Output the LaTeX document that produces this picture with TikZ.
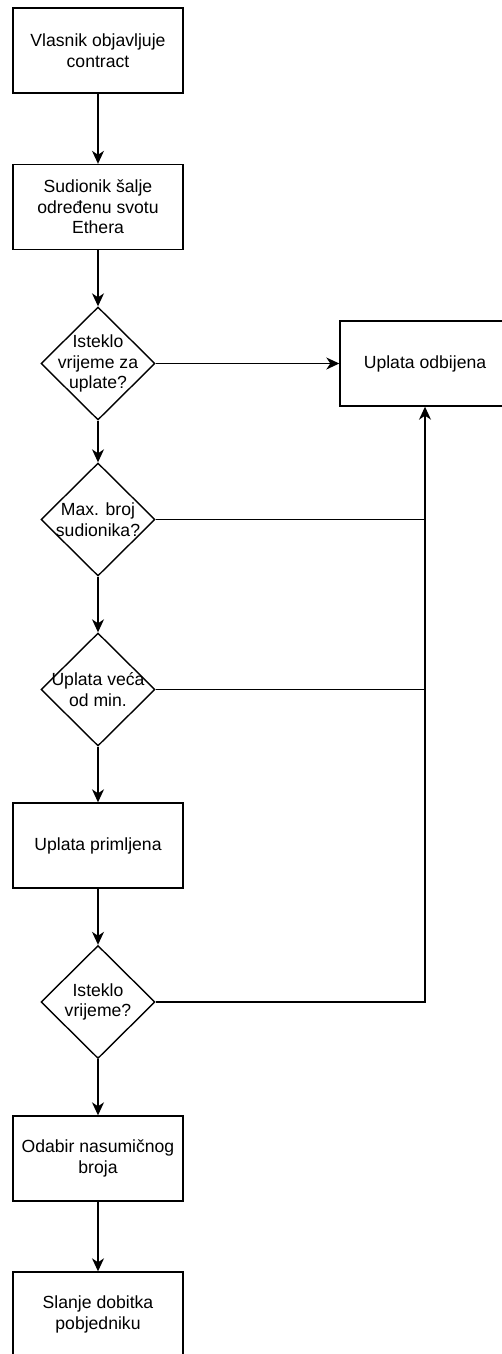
\documentclass[tikz,border=0pt]{standalone}
\usepackage{fontspec}
\setmainfont{Liberation Sans}
\usetikzlibrary{shapes.geometric,arrows.meta}

\tikzset{
	txt/.style={font=\fontsize{17.6}{20.6}\selectfont, align=center},
	stepbox/.style={txt, draw, line width=1.4pt, minimum width=170pt, minimum height=85pt, inner sep=0pt},
	ask/.style={draw, diamond, line width=1.4pt, minimum width=114pt, minimum height=113pt, inner sep=0pt, label={[txt]center:#1}},
	flow/.style={-{Stealth[length=13pt,width=12pt,inset=4pt]}, line width=1.4pt},
	wire/.style={line width=1.4pt}
}

\begin{document}
\begin{tikzpicture}[x=1pt, y=-1pt]
		\useasboundingbox (0,0) rectangle (502,1354);
		\def\col{98}	% main column
		\def\side{425}	% rejection column
	% main column
		\node [stepbox] (publish) at (\col,50.5) {Vlasnik objavljuje\\contract};
		\node [stepbox] (send) at (\col,207) {Sudionik šalje\\određenu svotu\\Ethera};
		\node [ask={Isteklo\\vrijeme za\\uplate?}] (late) at (\col,363.5) {};
		\node [ask={Max. broj\\sudionika?}] (full) at (\col,519.5) {};
		\node [ask={Uplata veća\\od min.}] (enough) at (\col,689.5) {};
		\node [stepbox] (accepted) at (\col,845.5) {Uplata primljena};
		\node [ask={Isteklo\\vrijeme?}] (timeout) at (\col,1002) {};
		\node [stepbox] (pick) at (\col,1158.5) {Odabir nasumičnog\\broja};
		\node [stepbox] (payout) at (\col,1314.5) {Slanje dobitka\\pobjedniku};
	% rejection
		\node [stepbox] (rejected) at (\side,363.5) {Uplata odbijena};
	% arrows down
		\foreach \a/\b in {publish/send, send/late, late/full, full/enough, enough/accepted, accepted/timeout, timeout/pick, pick/payout}
			\draw [flow] (\a) -- (\b);
	% arrows to rejection
		\draw [flow] (late) -- (rejected);
		\draw [wire] (full.east) -- (full.east -| rejected.south);
		\draw [wire] (enough.east) -- (enough.east -| rejected.south);
		\draw [flow] (timeout.east) -- (timeout.east -| rejected.south) -- (rejected.south);
\end{tikzpicture}
\end{document}
